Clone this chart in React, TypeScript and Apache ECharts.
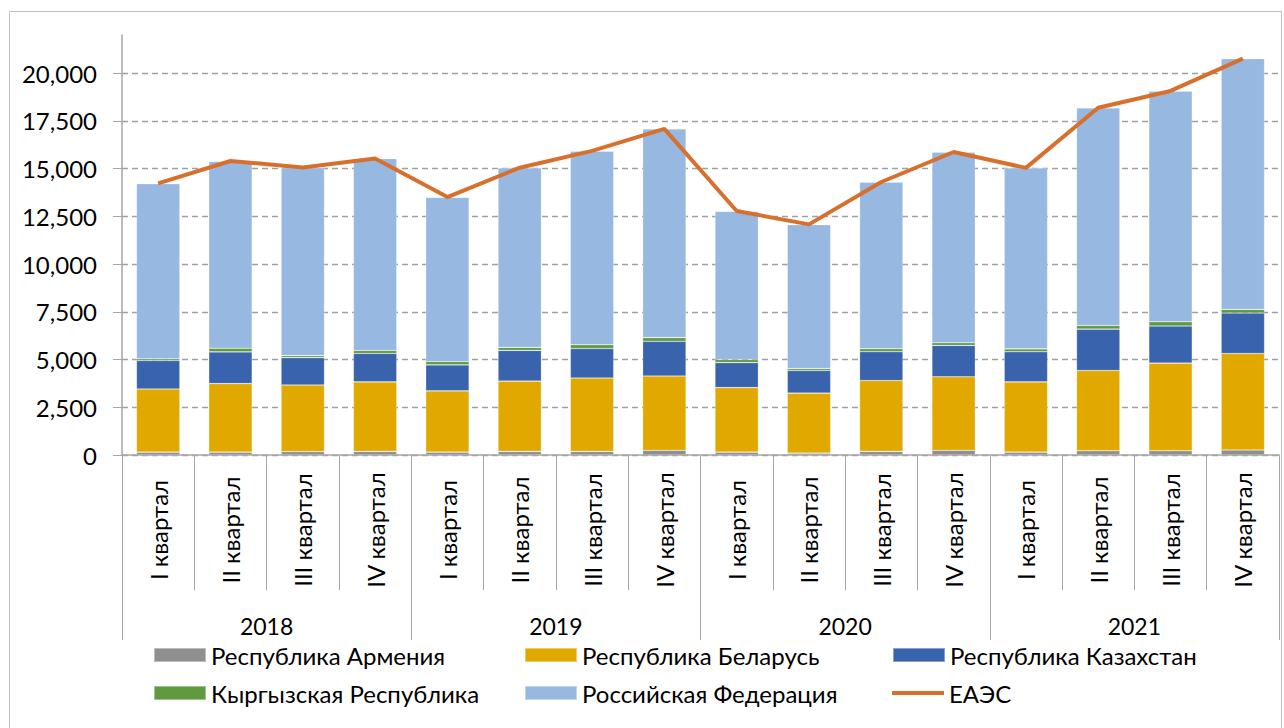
import React, { useEffect, useRef } from "react";
import * as echarts from "echarts";

const categories = [
  "I квартал", "II квартал", "III квартал", "IV квартал",
  "I квартал", "II квартал", "III квартал", "IV квартал",
  "I квартал", "II квартал", "III квартал", "IV квартал",
  "I квартал", "II квартал", "III квартал", "IV квартал",
];
const years = ["2018", "2019", "2020", "2021"];

const armenia = [150, 150, 180, 190, 150, 190, 190, 245, 150, 100, 190, 245, 150, 225, 225, 262];
const belarus = [3310, 3590, 3490, 3640, 3210, 3680, 3840, 3890, 3380, 3140, 3710, 3850, 3680, 4200, 4590, 5055];
const kazakhstan = [1490, 1660, 1430, 1490, 1360, 1610, 1550, 1820, 1310, 1190, 1510, 1645, 1575, 2170, 1940, 2120];
const kyrgyzstan = [90, 190, 105, 155, 175, 160, 195, 195, 160, 105, 155, 140, 155, 190, 225, 190];
const russia = [9170, 9790, 9840, 10050, 8600, 9400, 10140, 10925, 7760, 7530, 8720, 9980, 9470, 11400, 12080, 13130];
const eaeu = [14230, 15400, 15060, 15530, 13510, 15050, 15930, 17080, 12780, 12080, 14300, 15870, 15040, 18190, 19070, 20760];

const FONT = "Lato, 'Noto Sans', sans-serif";
const GRAY = "#a6a6a6";

export default function App() {
  const ref = useRef<HTMLDivElement>(null);
  useEffect(() => {
    if (!ref.current) return;
    const chart = echarts.init(ref.current, null, { renderer: "svg" });
    const barSeries = (name: string, data: number[], color: string) => ({
      name,
      type: "bar",
      stack: "total",
      data,
      barWidth: "60%",
      itemStyle: { color, borderColor: "rgba(255,255,255,0.4)", borderWidth: 0.6 },
    });
    const legendItem = (name: string, left: number, top: number, isLine = false) => ({
      show: true,
      left,
      top,
      padding: 0,
      data: [{ name, icon: "rect" }],
      itemWidth: 52,
      itemHeight: isLine ? 4 : 14,
      itemGap: 6,
      textStyle: { fontFamily: FONT, fontSize: 24, color: "#000" },
      selectedMode: false,
    });
    chart.setOption({
      animation: false,
      backgroundColor: "#fff",
      textStyle: { fontFamily: FONT },
      graphic: [
        {
          type: "rect",
          shape: { x: 9.5, y: 11.5, width: 1272, height: 740 },
          style: { fill: "none", stroke: "#bfbfbf", lineWidth: 1 },
          silent: true,
        },
      ],
      grid: { left: 122, right: 5, top: 35, bottom: 273, containLabel: false },
      legend: [
        legendItem("Республика Армения", 153, 643),
        legendItem("Республика Беларусь", 524, 643),
        legendItem("Республика Казахстан", 892, 643),
        legendItem("Кыргызская Республика", 153, 681),
        legendItem("Российская Федерация", 524, 681),
        legendItem("ЕАЭС", 892, 681, true),
      ],
      xAxis: [
        {
          type: "category",
          data: categories,
          position: "bottom",
          axisLine: { show: true, lineStyle: { color: GRAY, width: 1.5 } },
          axisTick: { show: true, length: 135, lineStyle: { color: GRAY, width: 1 } },
          axisLabel: {
            rotate: 90,
            align: "center",
            verticalAlign: "middle",
            margin: 75,
            fontFamily: FONT,
            fontSize: 24,
            color: "#000",
            interval: 0,
          },
        },
        {
          type: "category",
          data: years,
          position: "bottom",
          axisLine: { show: false },
          axisTick: { show: true, length: 185, lineStyle: { color: GRAY, width: 1 } },
          axisLabel: { margin: 159, fontFamily: FONT, fontSize: 23, color: "#000", interval: 0 },
        },
      ],
      yAxis: {
        type: "value",
        min: 0,
        max: 22000,
        interval: 2500,
        axisLine: { show: true, lineStyle: { color: GRAY, width: 1.5 } },
        axisTick: { show: true, length: 9, lineStyle: { color: GRAY } },
        axisLabel: {
          margin: 25,
          fontFamily: FONT,
          fontSize: 24,
          color: "#000",
          showMaxLabel: false,
          formatter: (v: number) => v.toLocaleString("en-US"),
        },
        splitLine: {
          show: true,
          showMaxLine: false,
          lineStyle: { color: "#a0a0a0", type: [6, 4], width: 1.3 },
        },
      },
      series: [
        barSeries("Республика Армения", armenia, "#8f8f8f"),
        barSeries("Республика Беларусь", belarus, "#e1a800"),
        barSeries("Республика Казахстан", kazakhstan, "#3a63ad"),
        barSeries("Кыргызская Республика", kyrgyzstan, "#5f9a3f"),
        barSeries("Российская Федерация", russia, "#97b8e0"),
        {
          name: "ЕАЭС",
          type: "line",
          data: eaeu,
          symbol: "none",
          lineStyle: { color: "#d8702d", width: 4 },
          itemStyle: { color: "#d8702d" },
          z: 5,
        },
      ],
    });
    return () => chart.dispose();
  }, []);
  return (
    <div
      ref={ref}
      style={{ position: "fixed", left: 0, top: 0, width: 1284, height: 728 }}
    />
  );
}
